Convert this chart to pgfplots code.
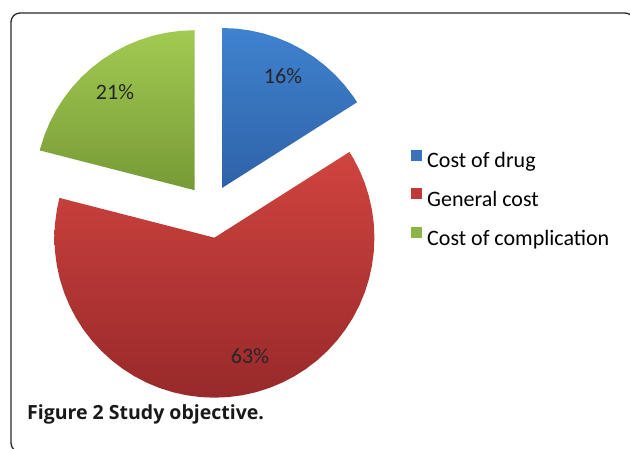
\documentclass[border=0pt]{standalone}
\usepackage{pgfplots}
\pgfplotsset{compat=1.18}
\usepackage{fontspec}
\setmainfont{Carlito}
\newfontfamily\capfont{Open Sans}
\definecolor{blueT}{HTML}{3F82CF}
\definecolor{blueB}{HTML}{2F62A8}
\definecolor{redT}{HTML}{D0443F}
\definecolor{redB}{HTML}{98292A}
\definecolor{greenT}{HTML}{A2CA52}
\definecolor{greenB}{HTML}{779A36}
\definecolor{blueL}{HTML}{3A72BE}
\definecolor{redL}{HTML}{C0393A}
\definecolor{greenL}{HTML}{8DB446}
\begin{document}
\begin{tikzpicture}[x=1pt,y=1pt]
\path[use as bounding box] (0,0) rectangle (630,449);
\draw[line width=1.3pt, black!85, rounded corners=9pt] (11,-3) rectangle (634,436);
\begin{axis}[at={(0,0)}, anchor=south west, x=160pt, y=160pt,
  xmin=-1.3125, xmax=2.625, ymin=-1.49375, ymax=1.3125,
  hide axis, clip=false,
  legend style={draw=none, fill=none, at={(411/630,301.5/449)}, anchor=north west,
    font=\fontsize{22}{26}\selectfont, row sep=15pt, inner sep=0pt},
  legend cell align=left,
  legend image code/.code={\fill[#1,draw=none] (0pt,-1pt) rectangle (11pt,10pt);}]
% slices: 16% (57.6 deg), 63% (226.8 deg), 21% (75.6 deg); polar (angle, radius)
\addplot[draw=none, top color=blueT, bottom color=blueB, data cs=polar, xshift=12pt, yshift=22pt, forget plot]
 coordinates {(0,0) (32.4,1) (35,1) (40,1) (45,1) (50,1) (55,1) (60,1) (65,1) (70,1) (75,1) (80,1) (85,1) (90,1)};
\addplot[draw=none, top color=redT, bottom color=redB, data cs=polar, xshift=4.4pt, yshift=-27.7pt, forget plot]
 coordinates {(0,0) (-194.4,1) (-190,1) (-185,1) (-180,1) (-175,1) (-170,1) (-165,1) (-160,1) (-155,1) (-150,1) (-145,1) (-140,1) (-135,1) (-130,1) (-125,1) (-120,1) (-115,1) (-110,1) (-105,1) (-100,1) (-95,1) (-90,1) (-85,1) (-80,1) (-75,1) (-70,1) (-65,1) (-60,1) (-55,1) (-50,1) (-45,1) (-40,1) (-35,1) (-30,1) (-25,1) (-20,1) (-15,1) (-10,1) (-5,1) (0,1) (5,1) (10,1) (15,1) (20,1) (25,1) (30,1) (32.4,1)};
\addplot[draw=none, top color=greenT, bottom color=greenB, data cs=polar, xshift=-15.3pt, yshift=19.8pt, forget plot]
 coordinates {(0,0) (90,1) (95,1) (100,1) (105,1) (110,1) (115,1) (120,1) (125,1) (130,1) (135,1) (140,1) (145,1) (150,1) (155,1) (160,1) (165,1) (165.6,1)};
\addlegendimage{fill=blueL}
\addlegendentry{\hspace*{3pt}\strut Cost of drug}
\addlegendimage{fill=redL}
\addlegendentry{\hspace*{3pt}\strut General cost}
\addlegendimage{fill=greenL}
\addlegendentry{\hspace*{3pt}\strut Cost of complication}
\end{axis}
\begin{scope}[every node/.style={font=\fontsize{22}{26}\selectfont, text=black!85}]
\node at (283,373) {16\%};
\node at (115,356.5) {21\%};
\node at (250,93) {63\%};
\end{scope}
\node[anchor=base west, inner sep=0pt, text=black!90] at (27,29)
  {\capfont\fontsize{19.5}{23}\selectfont\bfseries Figure 2 Study objective.};
\end{tikzpicture}
\end{document}
